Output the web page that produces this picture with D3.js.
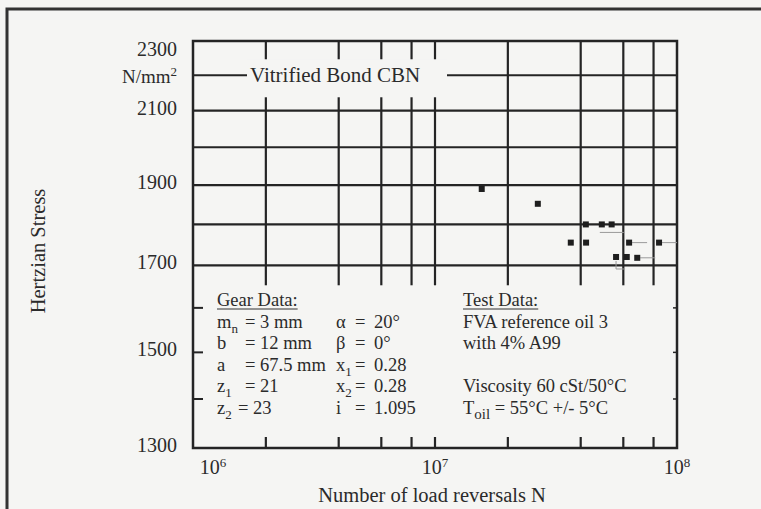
<!DOCTYPE html>
<html lang="en">
<head>
<meta charset="UTF-8">
<title>Hertzian Stress vs Number of Load Reversals</title>
<script src="https://d3js.org/d3.v7.min.js"></script>
<style>
  body { margin: 0; background: #f5f5f3; }
  svg { display: block; font-family: "Liberation Serif", "Times New Roman", serif; }
  text { fill: #2b2b2b; }
</style>
</head>
<body>
<div id="chart"></div>
<script>
// test points (load reversals, Hertzian stress in N/mm2), run-out marker kind
const cycles = [1.56e7, 2.66e7, 4.2e7, 4.89e7, 5.37e7, 3.64e7, 4.21e7, 6.34e7, 8.43e7, 5.6e7, 6.2e7, 6.85e7];
const stress = [1890, 1852, 1800, 1800, 1800, 1755, 1755, 1755, 1755, 1720, 1720, 1718];
const runout = ["", "", "", "under", "", "", "", "right", "right", "down", "", "right"];

const xGrid = [2e6, 4e6, 6e6, 8e6, 1e7, 2e7, 4e7, 6e7, 8e7];
const xTickLabels = [{exp: 6, v: 1e6}, {exp: 7, v: 1e7}, {exp: 8, v: 1e8}];
const yGrid = [2200, 2100, 2000, 1900, 1800, 1700];
const yMinorTicks = [1600, 1500, 1400];
const yTickLabels = [2300, 2100, 1900, 1700, 1500, 1300];

const gearNames = ["m", "b", "a", "z", "z"];
const gearSubs = ["n", "", "", "1", "2"];
const gearValues = ["= 3 mm", "= 12 mm", "= 67.5 mm", "= 21", "= 23"];
const angleNames = ["\u03b1", "\u03b2", "x", "x", "i"];
const angleSubs = ["", "", "1", "2", ""];
const angleValues = ["20\u00b0", "0\u00b0", "0.28", "0.28", "1.095"];
const testLines = ["FVA reference oil 3", "with 4% A99", "", "Viscosity 60 cSt/50\u00b0C"];

const W = 761, H = 509;
const plotL = 193, plotR = 677, plotT = 41, plotB = 448;
const ink = "#242424";

const svg = d3.select("#chart").append("svg")
    .attr("width", W)
    .attr("height", H);

svg.append("rect").attr("width", W).attr("height", H).attr("fill", "#f5f5f3");

// scanned page frame (left and top edges only)
svg.append("path")
    .attr("d", `M7,${H} V9 H${W}`)
    .attr("fill", "none")
    .attr("stroke", "#333")
    .attr("stroke-width", 3);

const x = d3.scaleLog().domain([1e6, 1e8]).range([plotL, plotR]);
const y = d3.scalePow().exponent(0.3).domain([1300, 2300]).range([plotB, plotT]);

const lowY = y(1700);

// vertical grid lines (upper part) and ticks on the lower part
xGrid.forEach(v => {
    svg.append("line")
        .attr("x1", x(v)).attr("x2", x(v))
        .attr("y1", plotT).attr("y2", lowY + 20)
        .attr("stroke", ink).attr("stroke-width", 2.2);
    svg.append("line")
        .attr("x1", x(v)).attr("x2", x(v))
        .attr("y1", plotB).attr("y2", plotB - 11)
        .attr("stroke", ink).attr("stroke-width", 2.2);
});

// horizontal grid lines
yGrid.forEach(v => {
    svg.append("line")
        .attr("x1", plotL).attr("x2", plotR)
        .attr("y1", y(v)).attr("y2", y(v))
        .attr("stroke", ink).attr("stroke-width", 2.2);
});

yMinorTicks.forEach(v => {
    svg.append("line")
        .attr("x1", plotL).attr("x2", plotL + 10)
        .attr("y1", y(v)).attr("y2", y(v))
        .attr("stroke", ink).attr("stroke-width", 2);
    svg.append("line")
        .attr("x1", plotR).attr("x2", plotR - 4)
        .attr("y1", y(v)).attr("y2", y(v))
        .attr("stroke", ink).attr("stroke-width", 1.5);
});

// plot frame
svg.append("rect")
    .attr("x", plotL).attr("y", plotT)
    .attr("width", plotR - plotL).attr("height", plotB - plotT)
    .attr("fill", "none")
    .attr("stroke", ink)
    .attr("stroke-width", 2.5);

// label on the 2200 line
const labY = y(2200);
svg.append("rect")
    .attr("x", 247).attr("y", labY - 16)
    .attr("width", 200).attr("height", 38)
    .attr("fill", "#f5f5f3");
svg.append("text")
    .attr("x", 250).attr("y", labY + 7)
    .style("font-size", "21px")
    .text("Vitrified Bond CBN");

// run-out tails
const tails = svg.append("g").attr("stroke", "#9a9a9a").attr("stroke-width", 1).attr("fill", "none");
cycles.forEach((c, i) => {
    const px = x(c), py = y(stress[i]);
    if (runout[i] === "right") {
        tails.append("path").attr("d", `M${px + 3},${py} H${px + 18}`);
    } else if (runout[i] === "under") {
        tails.append("path").attr("d", `M${px - 2},${py + 8} H${px + 22}`);
    } else if (runout[i] === "down") {
        tails.append("path").attr("d", `M${px},${py + 4} V${py + 12} H${px + 9}`);
    }
});

// data points
svg.append("g")
    .selectAll("rect")
    .data(cycles)
    .join("rect")
    .attr("x", (d) => x(d) - 3)
    .attr("y", (d, i) => y(stress[i]) - 3)
    .attr("width", 6)
    .attr("height", 6)
    .attr("fill", "#1e1e1e");

// y tick labels
yTickLabels.forEach(v => {
    svg.append("text")
        .attr("x", 177)
        .attr("y", y(v) + (v === 2300 ? 15 : 4))
        .attr("text-anchor", "end")
        .style("font-size", "20px")
        .text(v);
});
const unit = svg.append("text")
    .attr("x", 177).attr("y", labY + 8)
    .attr("text-anchor", "end")
    .style("font-size", "19px");
unit.append("tspan").text("N/mm");
unit.append("tspan").attr("dy", -7).style("font-size", "13px").text("2");

// x tick labels
xTickLabels.forEach((t, i) => {
    const lab = svg.append("text")
        .attr("x", x(t.v) + (i === 0 ? 20 : 0))
        .attr("y", 474)
        .attr("text-anchor", "middle")
        .style("font-size", "20px");
    lab.append("tspan").text("10");
    lab.append("tspan").attr("dy", -7).style("font-size", "13px").text(t.exp);
});

// axis titles
svg.append("text")
    .attr("x", 432).attr("y", 502)
    .attr("text-anchor", "middle")
    .style("font-size", "20.5px")
    .text("Number of load reversals N");

svg.append("text")
    .attr("transform", "translate(45,251) rotate(-90)")
    .attr("text-anchor", "middle")
    .style("font-size", "20.5px")
    .text("Hertzian Stress");

// info block
const fs = "18.5px";
const base = 306, step = 21.6;

function heading(xp, label) {
    const t = svg.append("text").attr("x", xp).attr("y", base).style("font-size", fs).text(label);
    const w = t.node().getComputedTextLength();
    svg.append("line")
        .attr("x1", xp).attr("x2", xp + w)
        .attr("y1", base + 3).attr("y2", base + 3)
        .attr("stroke", "#333").attr("stroke-width", 1);
}

function withSub(xp, yp, name, sub) {
    const t = svg.append("text").attr("x", xp).attr("y", yp).style("font-size", fs);
    t.append("tspan").text(name);
    if (sub) t.append("tspan").attr("dy", 5).style("font-size", "13px").text(sub);
    return t;
}

heading(217, "Gear Data:");
gearNames.forEach((n, i) => {
    const yp = base + step * (i + 1);
    withSub(217, yp, n, gearSubs[i]);
    svg.append("text").attr("x", i === 4 ? 238 : 245).attr("y", yp).style("font-size", fs).text(gearValues[i]);
});

angleNames.forEach((n, i) => {
    const yp = base + step * (i + 1);
    withSub(336, yp, n, angleSubs[i]);
    svg.append("text").attr("x", 355).attr("y", yp).style("font-size", fs).text("=");
    svg.append("text").attr("x", 374).attr("y", yp).style("font-size", fs).text(angleValues[i]);
});

heading(463, "Test Data:");
testLines.forEach((s, i) => {
    svg.append("text").attr("x", 463).attr("y", base + step * (i + 1)).style("font-size", fs).text(s);
});
const toil = svg.append("text").attr("x", 463).attr("y", base + step * 5).style("font-size", fs);
toil.append("tspan").text("T");
toil.append("tspan").attr("dy", 5).style("font-size", "15px").text("oil");
toil.append("tspan").attr("dy", -5).text(" = 55\u00b0C +/- 5\u00b0C");
</script>
</body>
</html>
